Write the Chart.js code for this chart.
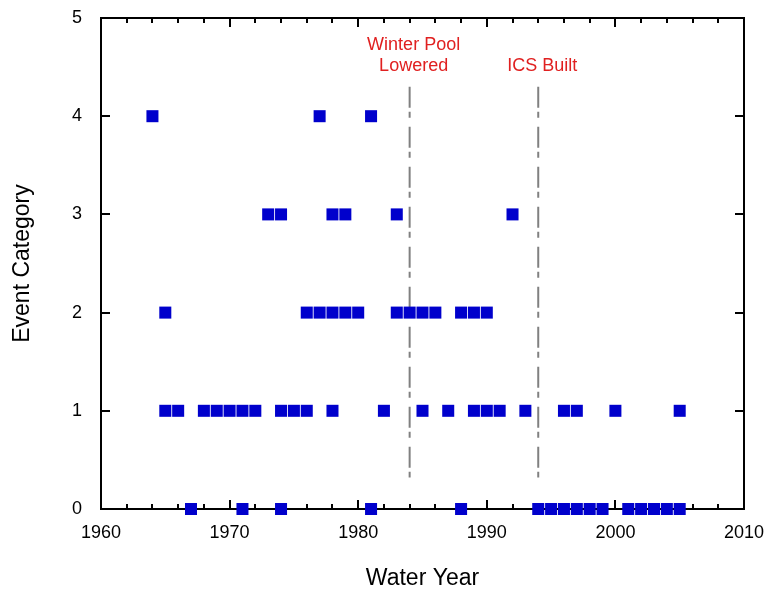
<!DOCTYPE html>
<html>
<head>
<meta charset="utf-8">
<script src="https://cdn.jsdelivr.net/npm/chart.js@4.4.1/dist/chart.umd.min.js"></script>
<style>
  html, body { margin: 0; padding: 0; background: #fff; }
</style>
</head>
<body>
<canvas id="myChart" width="764" height="590"></canvas>
<script>
// water years falling in each event category
var cat0Years = [1967, 1971, 1974, 1981, 1988, 1994, 1995, 1996, 1997, 1998, 1999, 2001, 2002, 2003, 2004, 2005];
var cat1Years = [1965, 1966, 1968, 1969, 1970, 1971, 1972, 1974, 1975, 1976, 1978, 1982, 1985, 1987, 1989, 1990, 1991, 1993, 1996, 1997, 2000, 2005];
var cat2Years = [1965, 1976, 1977, 1978, 1979, 1980, 1983, 1984, 1985, 1986, 1988, 1989, 1990];
var cat3Years = [1973, 1974, 1978, 1979, 1983, 1992];
var cat4Years = [1964, 1977, 1981];

var yearTicks = [1960, 1970, 1980, 1990, 2000, 2010];
var categoryTicks = [0, 1, 2, 3, 4, 5];

// vertical event markers
var eventYears = [1984, 1994];
var eventLabels = [['Winter Pool', 'Lowered'], ['ICS Built']];
var eventSpan = [4.3, 0.32];

var FONT = "'Liberation Sans', Arial, sans-serif";

var points = [];
[cat0Years, cat1Years, cat2Years, cat3Years, cat4Years].forEach(function (years, cat) {
    years.forEach(function (yr) { points.push({ x: yr, y: cat }); });
});

var datasets = [{
    label: 'events',
    data: points,
    backgroundColor: '#0000cc',
    borderWidth: 0,
    pointStyle: 'rect',
    pointRadius: 8.5,
    clip: false
}];

eventYears.forEach(function (yr) {
    datasets.push({
        label: 'marker ' + yr,
        data: [{ x: yr, y: eventSpan[0] }, { x: yr, y: eventSpan[1] }],
        showLine: true,
        borderColor: '#808080',
        borderWidth: 2,
        borderDash: [21, 4, 6, 9],
        pointRadius: 0
    });
});

// box with inward ticks, drawn under the squares
const framePlugin = {
    id: 'frame',
    beforeDatasetsDraw(chart) {
        const { ctx, chartArea: a, scales: { x, y } } = chart;
        ctx.save();
        ctx.strokeStyle = '#000';
        ctx.lineWidth = 2;
        ctx.strokeRect(a.left, a.top, a.right - a.left, a.bottom - a.top);
        ctx.beginPath();
        for (let yr = x.min; yr <= x.max; yr += 2) {
            const px = Math.round(x.getPixelForValue(yr));
            const len = yearTicks.indexOf(yr) >= 0 ? 9 : 5;
            ctx.moveTo(px, a.bottom); ctx.lineTo(px, a.bottom - len);
            ctx.moveTo(px, a.top); ctx.lineTo(px, a.top + len);
        }
        categoryTicks.forEach(function (c) {
            const py = Math.round(y.getPixelForValue(c));
            ctx.moveTo(a.left, py); ctx.lineTo(a.left + 9, py);
            ctx.moveTo(a.right, py); ctx.lineTo(a.right - 9, py);
        });
        ctx.stroke();
        ctx.restore();
    }
};

const notePlugin = {
    id: 'notes',
    afterDatasetsDraw(chart) {
        const { ctx, scales: { x, y } } = chart;
        ctx.save();
        ctx.fillStyle = '#e02020';
        ctx.font = '18px ' + FONT;
        ctx.textAlign = 'center';
        ctx.textBaseline = 'middle';
        eventYears.forEach(function (yr, i) {
            const px = x.getPixelForValue(yr) + 4;
            const lines = eventLabels[i];
            lines.forEach(function (t, j) {
                const row = lines.length - 1 - j;
                ctx.fillText(t, px, y.getPixelForValue(4.51) - row * 21);
            });
        });
        ctx.restore();
    }
};

const config = {
    type: 'scatter',
    data: { datasets: datasets },
    options: {
        responsive: false,
        animation: false,
        layout: { padding: { top: 18, right: 20, left: 0, bottom: 0 } },
        scales: {
            x: {
                type: 'linear',
                min: 1960,
                max: 2010,
                afterBuildTicks: function (s) { s.ticks = yearTicks.map(function (v) { return { value: v }; }); },
                afterFit: function (s) { s.height = 81; s.paddingLeft = 0; s.paddingRight = 0; },
                grid: { display: false, drawTicks: false },
                border: { display: false },
                ticks: {
                    color: '#000', padding: 13, maxRotation: 0, font: { family: FONT, size: 18 },
                    callback: function (v) { return String(v); }
                },
                title: { display: true, text: 'Water Year', color: '#000', padding: 0, font: { family: FONT, size: 23, lineHeight: 1 } }
            },
            y: {
                min: 0,
                max: 5,
                afterBuildTicks: function (s) { s.ticks = categoryTicks.map(function (v) { return { value: v }; }); },
                afterFit: function (s) { s.width = 101; s.paddingTop = 0; s.paddingBottom = 0; },
                grid: { display: false, drawTicks: false },
                border: { display: false },
                ticks: { color: '#000', padding: 19, font: { family: FONT, size: 18 } },
                title: { display: true, text: 'Event Category', color: '#000', padding: { top: 11, bottom: 0 }, font: { family: FONT, size: 23, lineHeight: 1 } }
            }
        },
        plugins: {
            legend: { display: false },
            tooltip: { enabled: false }
        }
    },
    plugins: [framePlugin, notePlugin]
};

const myChart = new Chart(document.getElementById('myChart'), config);
</script>
</body>
</html>
